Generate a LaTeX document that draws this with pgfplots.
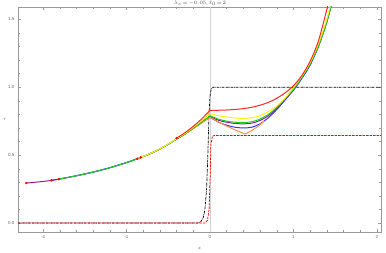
\documentclass[border=0pt]{standalone}
\usepackage{fontspec}
\setmainfont{Liberation Sans}
\usepackage{pgfplots}
\pgfplotsset{compat=1.18}
\definecolor{cRed}{rgb}{1,0.15,0.15}
\definecolor{cYel}{rgb}{1,0.95,0.05}
\definecolor{cGre}{rgb}{0.1,0.82,0.1}
\definecolor{cPur}{rgb}{0.55,0.12,0.6}
\definecolor{cBlu}{rgb}{0.2,0.2,1}
\definecolor{cOra}{rgb}{1,0.58,0.2}
\definecolor{frameg}{rgb}{0.6,0.6,0.6}
\begin{document}
\begin{tikzpicture}
\useasboundingbox (0,0) rectangle (386bp,253bp);
\begin{axis}[
  name=ax,
  at={(18bp,21bp)}, anchor=south west,
  scale only axis, width=363bp, height=225bp,
  xmin=-2.3, xmax=2.05, ymin=-0.066, ymax=1.59,
  axis line style={frameg, line width=0.4pt},
  xtick={-2,-1,0,1,2}, ytick={0,0.5,1,1.5},
  minor x tick num=4, minor y tick num=4,
  tick style={frameg, line width=0.3pt},
  major tick length=3bp, minor tick length=1.8bp,
  tick align=inside,
  yticklabel style={/pgf/number format/fixed,/pgf/number format/fixed zerofill,/pgf/number format/precision=1},
  /pgf/number format/assume math mode=true,
  ticklabel style={font=\fontsize{4.5}{5}\selectfont, text=black!60},
  xlabel={$x$}, ylabel={$r$},
  label style={font=\fontsize{4.5}{5}\selectfont, text=black!60},
  xlabel style={at={(axis description cs:0.5,-0.075)}, anchor=center},
  ylabel style={rotate=-90, at={(axis description cs:-0.036,0.5)}, anchor=center},
  clip=true,
]
% axis line at x=0
\addplot[black!18, line width=0.4pt] coordinates {(0,-0.066) (0,1.59)};
% black dash-dot step
\addplot[black, line width=0.7pt, dash pattern=on 2.5pt off 0.8pt on 0.6pt off 0.8pt] coordinates {
(-2.3,0) (-0.15,0) (-0.11,0.01) (-0.08,0.04) (-0.06,0.1) (-0.04,0.25) (-0.025,0.5) (-0.012,0.78) (0,0.93) (0.015,0.985) (0.04,1) (2.1,1)};
% red dashed step
\addplot[red, line width=0.75pt, dash pattern=on 2.5pt off 1pt] coordinates {
(-2.3,0) (-0.06,0) (-0.03,0.02) (-0.01,0.1) (0.003,0.35) (0.012,0.58) (0.03,0.64) (0.06,0.645) (2.1,0.645)};
% purple
\addplot[cPur, line width=1pt, smooth] coordinates {
(-2.2,0.294) (-2.0,0.306) (-1.9,0.314) (-1.81,0.323) (-1.6,0.348) (-1.4,0.375) (-1.2,0.407) (-1.0,0.445) (-0.87,0.473) (-0.7,0.515) (-0.55,0.562) (-0.4,0.618) (-0.3,0.655) (-0.2,0.697) (-0.1,0.74) (0,0.785)};
\addplot[cPur, line width=1pt, smooth] coordinates {
(0,0.785) (0.1,0.757) (0.2,0.742) (0.3,0.733) (0.4,0.73) (0.5,0.735) (0.6,0.755) (0.7,0.79) (0.8,0.845) (0.9,0.91) (1.0,0.98) (1.1,1.065) (1.2,1.165) (1.3,1.30) (1.4,1.48) (1.46,1.62)};
% blue
\addplot[cBlu, line width=1pt, smooth] coordinates {
(-1.9,0.314) (-1.81,0.323) (-1.6,0.348) (-1.4,0.375) (-1.2,0.407) (-1.0,0.445) (-0.87,0.473) (-0.7,0.515) (-0.55,0.562) (-0.4,0.618) (-0.3,0.655) (-0.2,0.697) (-0.1,0.738) (0,0.78)};
\addplot[cBlu, line width=1pt, smooth] coordinates {
(0,0.78) (0.1,0.743) (0.2,0.72) (0.3,0.705) (0.4,0.70) (0.5,0.705) (0.6,0.73) (0.7,0.775) (0.8,0.835) (0.9,0.905) (1.0,0.978) (1.1,1.063) (1.2,1.163) (1.3,1.30) (1.4,1.48) (1.46,1.62)};
% orange
\addplot[cOra, line width=1pt, smooth] coordinates {
(-0.83,0.483) (-0.7,0.515) (-0.55,0.562) (-0.4,0.618) (-0.3,0.655) (-0.2,0.696) (-0.1,0.737) (0,0.778)};
\addplot[cOra, line width=1pt] coordinates {
(0,0.778) (0.1,0.745) (0.2,0.714) (0.3,0.686) (0.36,0.67) (0.42,0.655) (0.5,0.68) (0.58,0.713) (0.65,0.752)};
% green
\addplot[cGre, line width=1pt, smooth] coordinates {
(-1.81,0.323) (-1.6,0.348) (-1.4,0.375) (-1.2,0.407) (-1.0,0.445) (-0.87,0.473) (-0.7,0.515) (-0.55,0.562) (-0.4,0.618) (-0.3,0.656) (-0.2,0.699) (-0.1,0.743) (0,0.79)};
\addplot[cGre, line width=1pt, smooth] coordinates {
(0,0.79) (0.1,0.765) (0.2,0.75) (0.3,0.742) (0.4,0.74) (0.5,0.745) (0.6,0.765) (0.7,0.80) (0.8,0.85) (0.9,0.915) (1.0,0.985) (1.1,1.07) (1.2,1.17) (1.3,1.30) (1.4,1.48) (1.46,1.62)};
% yellow
\addplot[cYel, line width=1pt, smooth] coordinates {
(-0.87,0.474) (-0.7,0.516) (-0.55,0.564) (-0.4,0.621) (-0.3,0.66) (-0.2,0.705) (-0.1,0.754) (0,0.806)};
\addplot[cYel, line width=1pt, smooth] coordinates {
(0,0.806) (0.1,0.79) (0.2,0.78) (0.3,0.773) (0.4,0.77) (0.5,0.775) (0.6,0.79) (0.7,0.82) (0.8,0.86) (0.9,0.92) (1.0,0.995) (1.1,1.08) (1.2,1.18) (1.3,1.32) (1.4,1.50) (1.45,1.62)};
% red
\addplot[cRed, line width=1pt, smooth] coordinates {
(-0.4,0.625) (-0.3,0.665) (-0.2,0.712) (-0.1,0.766) (0,0.83)};
\addplot[cRed, line width=1pt, smooth] coordinates {
(0,0.83) (0.1,0.83) (0.2,0.832) (0.3,0.836) (0.4,0.842) (0.5,0.852) (0.6,0.867) (0.7,0.888) (0.8,0.918) (0.9,0.958) (1.0,1.01) (1.1,1.085) (1.2,1.19) (1.3,1.34) (1.4,1.57) (1.43,1.65)};
% start points
\addplot[only marks, mark=*, red, mark size=1pt] coordinates {
(-2.2,0.294) (-1.9,0.314) (-1.81,0.323) (-0.87,0.473) (-0.83,0.483) (-0.4,0.625)};
\end{axis}
\node[anchor=base, font=\fontsize{5}{6}\selectfont, text=black!70, inner sep=0pt] at (200bp,248.5bp) {$\lambda_c\!=\!-0.05$, $\ell_0\!=\!2$};
\end{tikzpicture}
\end{document}
